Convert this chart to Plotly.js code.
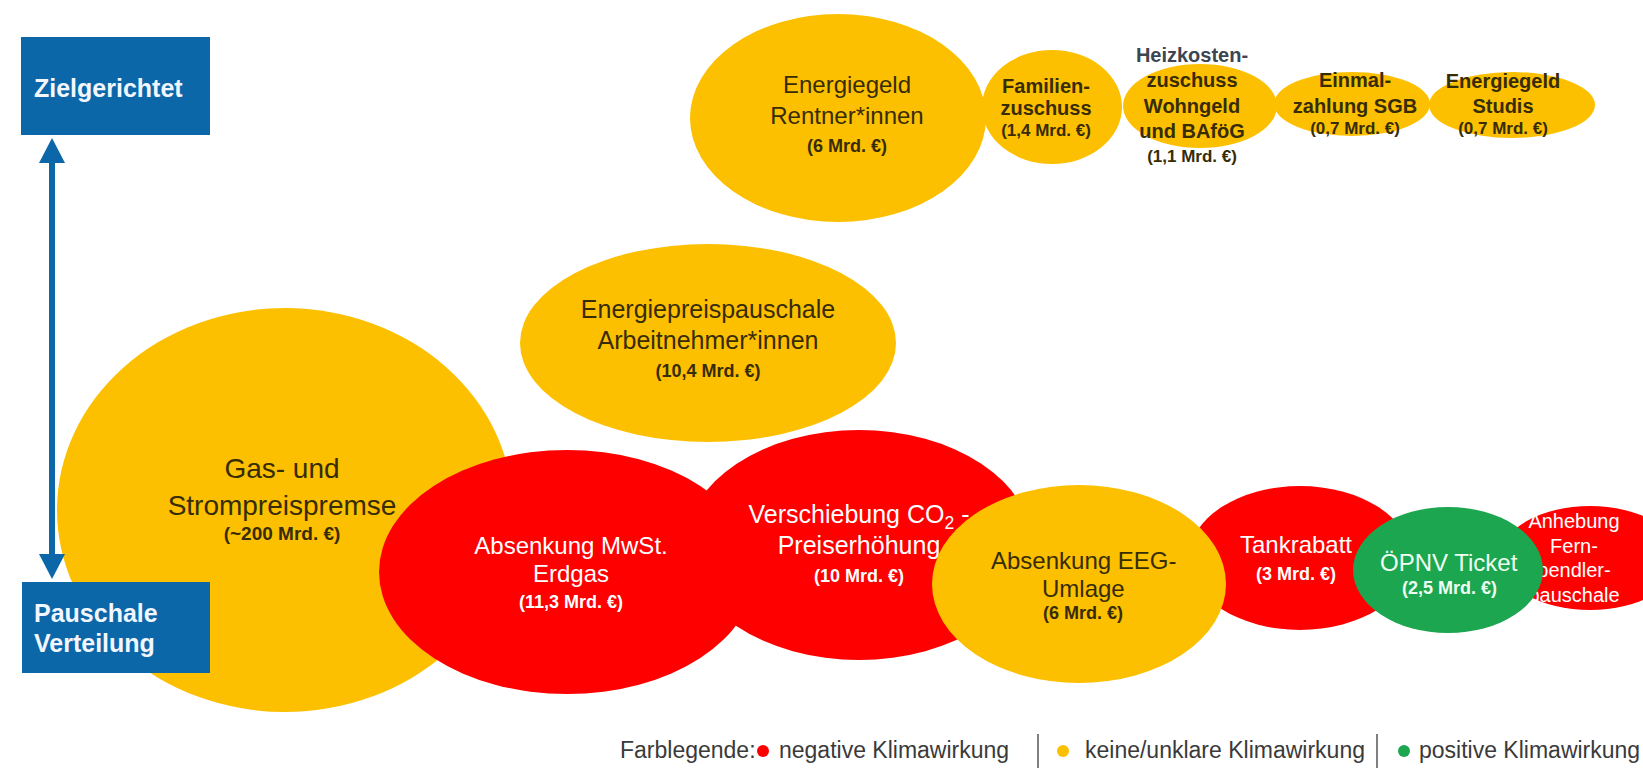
<!DOCTYPE html>
<html>
<head>
<meta charset="utf-8">
<script src="https://cdn.plot.ly/plotly-3.0.1.min.js"></script>
<style>
html,body{margin:0;padding:0;background:#ffffff;overflow:hidden}
#chart{width:1643px;height:769px}
</style>
</head>
<body>
<div id="chart"></div>
<script>
// ---------------- data ----------------
const measureNames = [
  'Gas- und Strompreispremse',
  'Verschiebung CO2-Preiserhöhung',
  'Absenkung MwSt. Erdgas',
  'Energiepreispauschale Arbeitnehmer*innen',
  'Familienzuschuss',
  'Heizkostenzuschuss Wohngeld und BAföG',
  'Einmalzahlung SGB',
  'Energiegeld Studis',
  'Energiegeld Rentner*innen',
  'Tankrabatt',
  'Anhebung Fernpendlerpauschale',
  'Absenkung EEG-Umlage',
  'ÖPNV Ticket'
];
const amountsBn = [200, 10, 11.3, 10.4, 1.4, 1.1, 0.7, 0.7, 6, 3, null, 6, 2.5];
const amountLabels = ['(~200 Mrd. €)', '(10 Mrd. €)', '(11,3 Mrd. €)', '(10,4 Mrd. €)',
  '(1,4 Mrd. €)', '(1,1 Mrd. €)', '(0,7 Mrd. €)', '(0,7 Mrd. €)', '(6 Mrd. €)',
  '(3 Mrd. €)', '', '(6 Mrd. €)', '(2,5 Mrd. €)'];
const climateEffect = ['neutral', 'negative', 'negative', 'neutral', 'neutral', 'neutral',
  'neutral', 'neutral', 'neutral', 'negative', 'negative', 'neutral', 'positive'];
const labelLines = [
  ['Gas- und', 'Strompreispremse'],
  ['Verschiebung CO<sub>2</sub> -', 'Preiserhöhung'],
  ['Absenkung MwSt.', 'Erdgas'],
  ['Energiepreispauschale', 'Arbeitnehmer*innen'],
  ['Familien-', 'zuschuss'],
  ['Heizkosten-', 'zuschuss', 'Wohngeld', 'und BAföG'],
  ['Einmal-', 'zahlung SGB'],
  ['Energiegeld', 'Studis'],
  ['Energiegeld', 'Rentner*innen'],
  ['Tankrabatt'],
  ['Anhebung', 'Fern-', 'pendler-', 'pauschale'],
  ['Absenkung EEG-', 'Umlage'],
  ['ÖPNV Ticket']
];
const axisTop = 'Zielgerichtet';
const axisBottom = ['Pauschale', 'Verteilung'];
const legendTitle = 'Farblegende:';
const legendEffects = ['negative', 'neutral', 'positive'];
const legendLabels = ['negative Klimawirkung', 'keine/unklare Klimawirkung', 'positive Klimawirkung'];

// ---------------- layout (positions / sizes in pixel-like axis units) ----------------
const bubbleCx = [285, 859, 567, 708, 1052, 1200, 1352, 1512, 838, 1300, 1590, 1079, 1448];
const bubbleCy = [510, 545, 572, 343, 107, 106, 104, 105, 118, 558, 558, 584, 570];
const bubbleRx = [228, 173, 188, 188, 70, 77, 78, 83, 148, 111, 90, 147, 95];
const bubbleRy = [202, 115, 122, 99, 57, 42, 32, 33, 104, 72, 52, 99, 63];
const bubbleOnTop = [false, false, false, false, false, false, false, false, false, false, false, true, true];
const textX = [282, 859, 571, 708, 1046, 1192, 1355, 1503, 847, 1296, 1574, 1083, 1449];
const textY0 = [471, 517, 548, 312, 88, 57, 82, 83, 87, 547, 523, 560, 562];
const lineGap = [37, 31, 28, 31, 22, 25.3, 26, 25, 31, 0, 24.7, 28, 0];
const amountY = [535, 577, 603, 372, 132, 158, 130, 130, 147, 575, null, 613, 588];
const labelSize = [28, 25, 24, 25, 20, 20, 20, 20, 24, 24, 20, 24, 24];
const labelBold = [false, false, false, false, true, true, true, true, false, false, false, false, false];
const amountSize = [19, 18, 18, 18, 17, 17, 17, 17, 18, 18, 0, 18, 18];
const legendDotX = [763, 1063, 1404];
const legendTextX = [777, 1083, 1417];
const legendSepX = [1038, 1377];

// ---------------- styles ----------------
const FONT = 'Liberation Sans, Arial, Helvetica, sans-serif';
const effectColor = {negative: '#FF0000', neutral: '#FCC000', positive: '#1CA650'};
const effectTextColor = {negative: '#FFFFFF', neutral: '#372C06', positive: '#EEFFF1'};
const BLUE = '#0B67A8';

const shapes = [];
const traces = [];
const annotations = [];

// bubbles
measureNames.forEach((name, i) => {
  shapes.push({
    type: 'circle', xref: 'x', yref: 'y',
    x0: bubbleCx[i] - bubbleRx[i], x1: bubbleCx[i] + bubbleRx[i],
    y0: bubbleCy[i] - bubbleRy[i], y1: bubbleCy[i] + bubbleRy[i],
    fillcolor: effectColor[climateEffect[i]], line: {width: 0},
    layer: bubbleOnTop[i] ? 'above' : 'below'
  });
});

// blue boxes and double arrow
shapes.push({type: 'rect', xref: 'x', yref: 'y', x0: 21, x1: 210, y0: 37, y1: 135,
  fillcolor: BLUE, line: {width: 0}, layer: 'below'});
shapes.push({type: 'rect', xref: 'x', yref: 'y', x0: 22, x1: 210, y0: 582, y1: 673,
  fillcolor: BLUE, line: {width: 0}, layer: 'below'});
shapes.push({type: 'line', xref: 'x', yref: 'y', x0: 52, x1: 52, y0: 158, y1: 558,
  line: {color: BLUE, width: 6}, layer: 'below'});
shapes.push({type: 'path', xref: 'x', yref: 'y', path: 'M 52 138 L 39 163 L 65 163 Z',
  fillcolor: BLUE, line: {width: 0}, layer: 'below'});
shapes.push({type: 'path', xref: 'x', yref: 'y', path: 'M 52 579 L 39 554 L 65 554 Z',
  fillcolor: BLUE, line: {width: 0}, layer: 'below'});

// legend separators
legendSepX.forEach(x => shapes.push({type: 'line', xref: 'x', yref: 'y', x0: x, x1: x,
  y0: 734, y1: 768, line: {color: '#555555', width: 1.5}, layer: 'below'}));

function addText(x, y, text, size, color, asAnnotation) {
  if (asAnnotation) {
    annotations.push({xref: 'x', yref: 'y', x: x, y: y, text: text, showarrow: false,
      xanchor: 'center', yanchor: 'middle', font: {family: FONT, size: size, color: color}});
  } else {
    traces.push({type: 'scatter', mode: 'text', x: [x], y: [y], text: [text],
      textposition: 'middle center', cliponaxis: false, hoverinfo: 'skip', showlegend: false,
      textfont: {family: FONT, size: size, color: color}});
  }
}

// bubble labels
measureNames.forEach((name, i) => {
  const col = effectTextColor[climateEffect[i]];
  labelLines[i].forEach((line, j) => {
    let c = col;
    if (i === 5 && j === 0) c = '#3C4651';
    const t = labelBold[i] ? '<b>' + line + '</b>' : line;
    addText(textX[i], textY0[i] + j * lineGap[i], t, labelSize[i], c, bubbleOnTop[i]);
  });
  if (amountLabels[i]) {
    addText(textX[i], amountY[i], '<b>' + amountLabels[i] + '</b>', amountSize[i], col, bubbleOnTop[i]);
  }
});

// axis boxes text
annotations.push({xref: 'x', yref: 'y', x: 32, y: 88, text: '<b>' + axisTop + '</b>', showarrow: false,
  xanchor: 'left', yanchor: 'middle', font: {family: FONT, size: 25, color: '#F2F6FF'}});
axisBottom.forEach((t, j) => annotations.push({xref: 'x', yref: 'y', x: 32, y: 613 + j * 30,
  text: '<b>' + t + '</b>', showarrow: false, xanchor: 'left', yanchor: 'middle',
  font: {family: FONT, size: 25, color: '#F2F6FF'}}));

// colour legend
annotations.push({xref: 'x', yref: 'y', x: 618, y: 750, text: legendTitle, showarrow: false,
  xanchor: 'left', yanchor: 'middle', font: {family: FONT, size: 23, color: '#3A3A3A'}});
legendLabels.forEach((t, k) => annotations.push({xref: 'x', yref: 'y', x: legendTextX[k], y: 750,
  text: t, showarrow: false, xanchor: 'left', yanchor: 'middle',
  font: {family: FONT, size: 23, color: '#3A3A3A'}}));
traces.push({type: 'scatter', mode: 'markers', x: legendDotX, y: legendDotX.map(() => 751),
  marker: {size: 12, color: legendEffects.map(e => effectColor[e]), line: {width: 0}},
  hoverinfo: 'skip', showlegend: false, cliponaxis: false});

const layout = {
  width: 1643, height: 769,
  margin: {l: 0, r: 0, t: 0, b: 0},
  paper_bgcolor: '#FFFFFF', plot_bgcolor: '#FFFFFF',
  showlegend: false,
  xaxis: {range: [0, 1643], visible: false, fixedrange: true},
  yaxis: {range: [769, 0], visible: false, fixedrange: true},
  shapes: shapes,
  annotations: annotations
};

Plotly.newPlot('chart', traces, layout, {staticPlot: true, displayModeBar: false});
</script>
</body>
</html>
